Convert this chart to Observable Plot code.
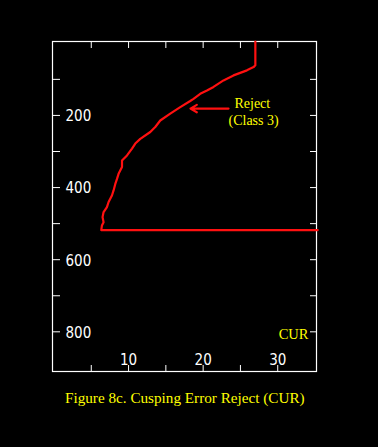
<!DOCTYPE html>
<html><head><meta charset="utf-8">
<script src="https://cdn.jsdelivr.net/npm/d3@7"></script>
<script src="https://cdn.jsdelivr.net/npm/@observablehq/plot@0.6"></script>
<style>
html,body{margin:0;padding:0;background:#000;}
body{width:378px;height:447px;position:relative;overflow:hidden;}
#chart svg{display:block;background:#000;}
#caption{position:absolute;left:65px;top:389px;color:#ffff00;font:15.2px "Liberation Serif","DejaVu Serif",serif;white-space:nowrap;}
</style></head><body><div id="chart"></div><div id="caption">Figure 8c. Cusping Error Reject (CUR)</div>
<script>
// CUR curve (x = CUR value, y = depth)
const curX = [27.0, 27.0, 26.76, 25.87, 24.07, 22.73, 21.39, 20.51, 19.61, 18.71, 18.27, 16.93, 15.59, 14.25, 13.58, 12.91, 11.57, 10.9, 10.46, 9.79, 9.12, 9.12, 8.66, 8.45, 8.22, 7.99, 7.77, 7.32, 7.1, 6.65, 6.51, 6.65, 6.43, 6.34, 35.36];
const curY = [-5, 61, 66, 75, 89, 103, 121, 131, 140, 154, 160, 177, 195, 214, 232, 246, 265, 278, 292, 311, 325, 343, 362, 376, 390, 408, 422, 440, 454, 468, 482, 496, 505, 518, 518];

const xTicks = [5, 10, 15, 20, 25, 30];
const xLabels = [10, 20, 30];
const yTicks = [100, 200, 300, 400, 500, 600, 700, 800];
const yLabels = [200, 400, 600, 800];

const arrowFrom = [23.4, 181];
const arrowTo = [18.3, 181];
const noteText = ["Reject", "(Class 3)"];
const noteX = [24.2, 23.4];
const noteY = [167, 215];
const axisName = "CUR";

const W = 378, H = 380, mL = 52, mR = 62, mT = 41, mB = 9;
const fw = W - mL - mR, fh = H - mT - mB;
const labelFont = "'Liberation Sans Narrow','DejaVu Sans Condensed',sans-serif";
const serif = "'Liberation Serif','DejaVu Serif',serif";

const curve = curX.map((x, i) => ({x, y: curY[i]}));
const notes = noteText.map((t, i) => ({t, x: noteX[i], y: noteY[i]}));

const chart = Plot.plot({
  width: W, height: H,
  marginLeft: mL, marginRight: mR, marginTop: mT, marginBottom: mB,
  style: {background: "#000", color: "#fff", overflow: "visible"},
  x: {domain: [-0.2, 35.2], axis: null},
  y: {domain: [-5, 910], reverse: true, axis: null},
  marks: [
    Plot.frame({stroke: "#fff", strokeWidth: 1.2}),
    Plot.tickY(yTicks, {y: d => d, stroke: "#fff", insetRight: fw - 8}),
    Plot.tickY(yTicks, {y: d => d, stroke: "#fff", insetLeft: fw - 6}),
    Plot.tickX(xTicks, {x: d => d, stroke: "#fff", insetBottom: fh - 7}),
    Plot.tickX(xTicks, {x: d => d, stroke: "#fff", insetTop: fh - 6}),
    Plot.text(yLabels, {y: d => d, text: d => String(d), frameAnchor: "left", dx: 13, dy: 1, textAnchor: "start", fill: "#fff", fontSize: 15, fontFamily: labelFont}),
    Plot.text(xLabels, {x: d => d, text: d => String(d), frameAnchor: "bottom", lineAnchor: "bottom", dy: -7, fill: "#fff", fontSize: 15, fontFamily: labelFont}),
    Plot.text([axisName], {text: d => d, frameAnchor: "bottom-right", textAnchor: "end", dx: -8, dy: -33, fill: "#ffff00", fontSize: 14.5, fontFamily: serif}),
    Plot.line(curve, {x: "x", y: "y", stroke: "#ff1010", strokeWidth: 2.2}),
    Plot.arrow([0], {x1: () => arrowFrom[0], y1: () => arrowFrom[1], x2: () => arrowTo[0], y2: () => arrowTo[1], stroke: "#ff1010", strokeWidth: 2.2, headLength: 5}),
    Plot.text(notes, {x: "x", y: "y", text: "t", textAnchor: "start", fill: "#ffff00", fontSize: 14, fontFamily: serif})
  ]
});
document.getElementById("chart").appendChild(chart);
</script>
</body></html>
